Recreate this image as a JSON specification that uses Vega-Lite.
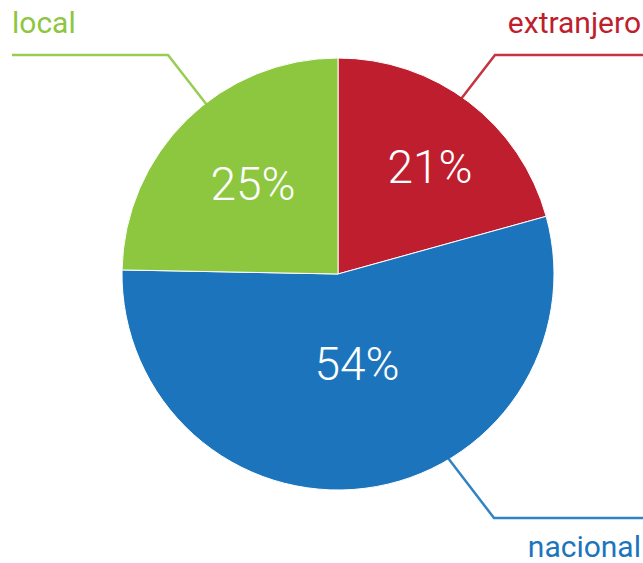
{
  "$schema": "https://vega.github.io/schema/vega-lite/v6.json",
  "width": 643,
  "height": 563,
  "padding": 0,
  "autosize": {"type": "none"},
  "background": "white",
  "config": {"view": {"stroke": null}},
  "datasets": {
    "slices": [
      {"origen": "extranjero", "pct": 20.7, "orden": 1},
      {"origen": "nacional", "pct": 54.6, "orden": 2},
      {"origen": "local", "pct": 24.7, "orden": 3}
    ],
    "pcts": [
      {"label": "21%", "px": 430, "py": 169},
      {"label": "54%", "px": 357, "py": 366},
      {"label": "25%", "px": 253, "py": 186}
    ],
    "leaders": [
      {"origen": "local", "i": 1, "lx": 12, "ly": 55},
      {"origen": "local", "i": 2, "lx": 168, "ly": 55},
      {"origen": "local", "i": 3, "lx": 228, "ly": 132},
      {"origen": "extranjero", "i": 1, "lx": 643, "ly": 55},
      {"origen": "extranjero", "i": 2, "lx": 495, "ly": 55},
      {"origen": "extranjero", "i": 3, "lx": 461, "ly": 99},
      {"origen": "nacional", "i": 1, "lx": 643, "ly": 518},
      {"origen": "nacional", "i": 2, "lx": 494, "ly": 518},
      {"origen": "nacional", "i": 3, "lx": 448, "ly": 458}
    ],
    "names": [
      {"origen": "local", "nx": 12, "ny": 33, "side": "left"},
      {"origen": "extranjero", "nx": 641, "ny": 33, "side": "right"},
      {"origen": "nacional", "nx": 641, "ny": 557, "side": "right"}
    ]
  },
  "layer": [
    {
      "data": {"name": "slices"},
      "mark": {"type": "arc", "outerRadius": 216, "stroke": "white", "strokeWidth": 1},
      "encoding": {
        "x": {"datum": 338, "type": "quantitative", "scale": {"domain": [0, 643], "nice": false, "zero": false}, "axis": null},
        "y": {"datum": 274, "type": "quantitative", "scale": {"domain": [0, 563], "nice": false, "zero": false, "reverse": true}, "axis": null},
        "theta": {"field": "pct", "type": "quantitative", "stack": true},
        "order": {"field": "orden", "type": "quantitative"},
        "color": {"field": "origen", "type": "nominal", "scale": {"domain": ["extranjero", "nacional", "local"], "range": ["#BE1E2D", "#1C75BC", "#8DC63F"]}, "legend": null}
      }
    },
    {
      "data": {"name": "leaders"},
      "mark": {"type": "line", "strokeWidth": 2.5, "opacity": 0.9},
      "encoding": {
        "x": {"field": "lx", "type": "quantitative"},
        "y": {"field": "ly", "type": "quantitative"},
        "detail": {"field": "origen"},
        "order": {"field": "i", "type": "quantitative"},
        "color": {"field": "origen", "type": "nominal", "legend": null}
      }
    },
    {
      "data": {"name": "pcts"},
      "mark": {"type": "text", "font": "Roboto", "fontWeight": 300, "fontSize": 46, "fill": "white", "align": "center", "baseline": "middle"},
      "encoding": {
        "x": {"field": "px", "type": "quantitative"},
        "y": {"field": "py", "type": "quantitative"},
        "text": {"field": "label"}
      }
    },
    {
      "data": {"name": "names"},
      "transform": [{"filter": "datum.side == 'left'"}],
      "mark": {"type": "text", "font": "Roboto", "fontWeight": 400, "fontSize": 30, "align": "left", "baseline": "alphabetic"},
      "encoding": {
        "x": {"field": "nx", "type": "quantitative"},
        "y": {"field": "ny", "type": "quantitative"},
        "text": {"field": "origen"},
        "color": {"field": "origen", "type": "nominal", "legend": null}
      }
    },
    {
      "data": {"name": "names"},
      "transform": [{"filter": "datum.side == 'right'"}],
      "mark": {"type": "text", "font": "Roboto", "fontWeight": 400, "fontSize": 30, "align": "right", "baseline": "alphabetic"},
      "encoding": {
        "x": {"field": "nx", "type": "quantitative"},
        "y": {"field": "ny", "type": "quantitative"},
        "text": {"field": "origen"},
        "color": {"field": "origen", "type": "nominal", "legend": null}
      }
    }
  ]
}
